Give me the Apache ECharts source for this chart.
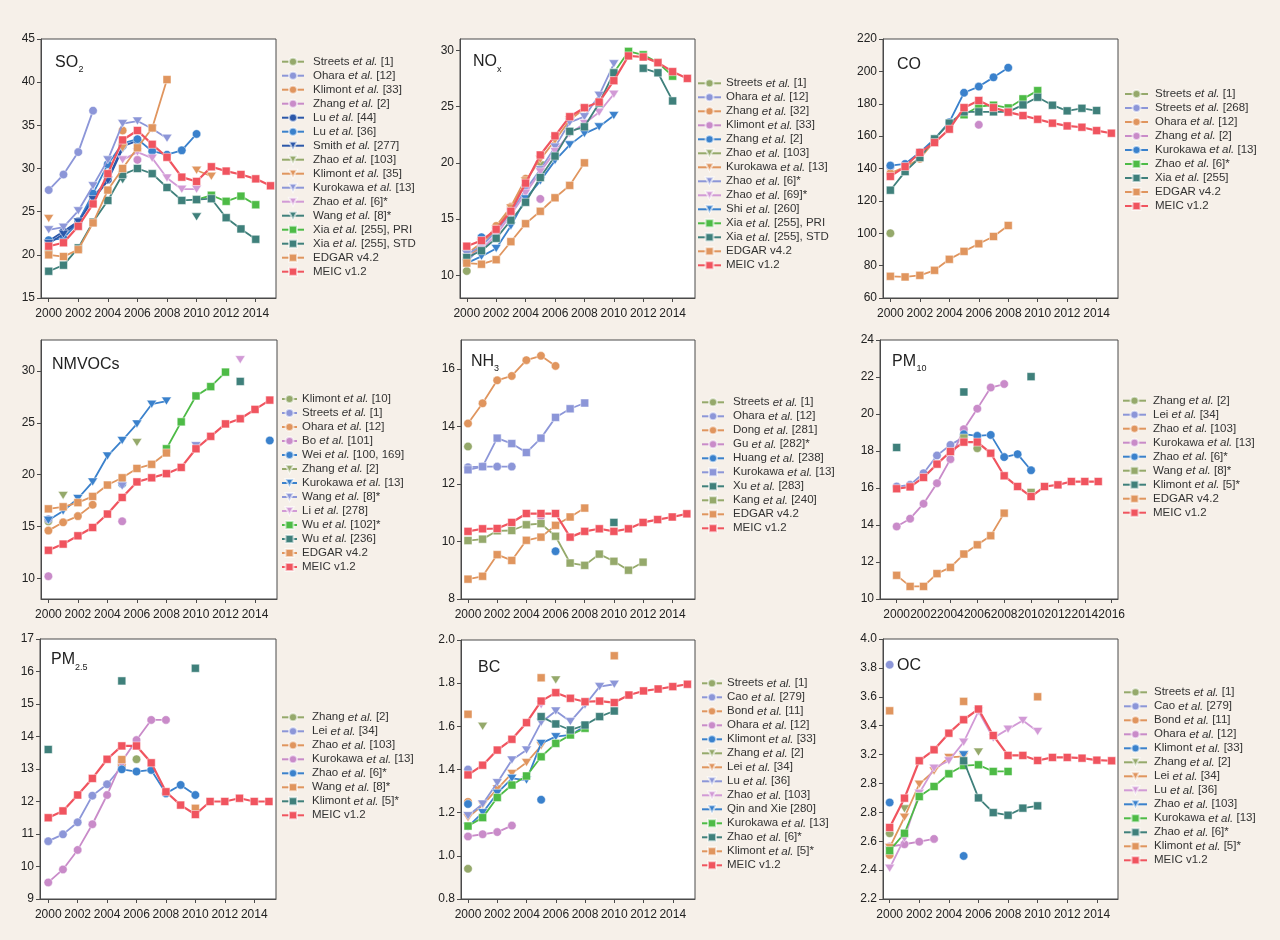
<!DOCTYPE html>
<html>
<head>
<meta charset="utf-8">
<title>Emission estimates for China</title>
<script src="https://cdn.jsdelivr.net/npm/echarts@6.0.0/dist/echarts.min.js"></script>
<style>
html, body { margin: 0; padding: 0; background: #f6f0e9; }
#main { width: 1280px; height: 940px; }
</style>
</head>
<body>
<div id="main"></div>
<script>
var _ = null;
var years = [2000, 2001, 2002, 2003, 2004, 2005, 2006, 2007, 2008, 2009, 2010, 2011, 2012, 2013, 2014, 2015];
var yearTicks = [2000, 2002, 2004, 2006, 2008, 2010, 2012, 2014];
var yearTicksPm10 = [2000, 2002, 2004, 2006, 2008, 2010, 2012, 2014, 2016];

var so2Ticks = [15, 20, 25, 30, 35, 40, 45];
var noxTicks = [10, 15, 20, 25, 30];
var coTicks = [60, 80, 100, 120, 140, 160, 180, 200, 220];
var nmvocTicks = [10, 15, 20, 25, 30];
var nh3Ticks = [8, 10, 12, 14, 16];
var pm10Ticks = [10, 12, 14, 16, 18, 20, 22, 24];
var pm25Ticks = [9, 10, 11, 12, 13, 14, 15, 16, 17];
var bcTicks = [0.8, 1.0, 1.2, 1.4, 1.6, 1.8, 2.0];
var ocTicks = [2.2, 2.4, 2.6, 2.8, 3.0, 3.2, 3.4, 3.6, 3.8, 4.0];
var ocTickLabels = ['2.2', '2.4', '2.6', '2.8', '2.8', '3.2', '3.4', '3.6', '3.8', '4.0'];

var OLIVE = '#95a96b', LAV = '#8c96d8', TAN = '#e0955e', PINK = '#c98bc9', LILAC = '#d29ad6',
    NAVY = '#2b57a9', BLUE = '#3a81cc', TEAL = '#3f807b', GREEN = '#4dbb46', RED = '#f0545f';

// SO2
var so2Names = ['Streets et al. [1]', 'Ohara et al. [12]', 'Klimont et al. [33]', 'Zhang et al. [2]', 'Lu et al. [44]',
    'Lu et al. [36]', 'Smith et al. [277]', 'Zhao et al. [103]', 'Klimont et al. [35]', 'Kurokawa et al. [13]',
    'Zhao et al. [6]*', 'Wang et al. [8]*', 'Xia et al. [255], PRI', 'Xia et al. [255], STD', 'EDGAR v4.2', 'MEIC v1.2'];
var so2Values = [
    [20.4],
    [27.5, 29.3, 31.9, 36.7],
    [_, _, _, _, _, 34.4],
    [_, _, _, _, _, _, 31.0],
    [21.6, 22.7, 23.9, 26.7, 28.7, 32.6, 33.2],
    [21.7, 21.9, 23.8, 27.1, 30.5, 32.9, 33.4, 32.0, 31.6, 32.1, 34.0],
    [21.3, 22.4, 23.8, 26.4, 28.6, 32.3],
    [_, _, _, _, _, 29.2],
    [24.2, _, _, _, _, 32.4, _, _, _, _, 29.8, 29.1],
    [22.9, 23.2, 25.1, 28.0, 31.0, 35.2, 35.5, 34.6, 33.5],
    [_, _, _, _, _, 31.0, 31.9, 31.2, 28.9, 27.6, 27.6],
    [_, _, _, _, _, 28.7, _, _, _, _, 24.4],
    [_, _, _, _, _, _, _, _, _, _, 26.4, 26.9, 26.2, 26.8, 25.8],
    [18.1, 18.8, 20.8, 23.8, 26.3, 29.3, 30.0, 29.4, 27.8, 26.3, 26.4, 26.5, 24.3, 23.0, 21.8],
    [20.0, 19.8, 20.6, 23.7, 27.5, 30.0, 32.4, 34.7, 40.3],
    [21.0, 21.4, 23.3, 25.9, 29.4, 33.3, 34.4, 32.8, 31.3, 29.0, 28.5, 30.2, 29.7, 29.3, 28.8, 28.0]
];
var so2Styles = [[OLIVE, 'c'], [LAV, 'c'], [TAN, 'c'], [PINK, 'c'], [NAVY, 'c'], [BLUE, 'c'], [NAVY, 't'], [OLIVE, 't'],
    [TAN, 't'], [LAV, 't'], [LILAC, 't'], [TEAL, 't'], [GREEN, 's'], [TEAL, 's'], [TAN, 's'], [RED, 's']];

// NOx
var noxNames = ['Streets et al. [1]', 'Ohara et al. [12]', 'Zhang et al. [32]', 'Klimont et al. [33]', 'Zhang et al. [2]',
    'Zhao et al. [103]', 'Kurokawa et al. [13]', 'Zhao et al. [6]*', 'Zhao et al. [69]*', 'Shi et al. [260]',
    'Xia et al. [255], PRI', 'Xia et al. [255], STD', 'EDGAR v4.2', 'MEIC v1.2'];
var noxValues = [
    [10.4],
    [11.2, 12.6, 14.1, 15.6],
    [11.5, 12.7, 14.4, 16.1, 18.6],
    [_, _, _, _, _, 16.8],
    [_, 13.4, _, _, _, _, 20.8],
    [_, _, _, _, _, 19.8],
    [11.9, 12.9, 14.1, 16.0, 18.4, 20.3, 22.0, 23.8, 24.8],
    [11.9, 12.6, 13.9, 15.6, 17.6, 19.4, 21.4, 23.6, 24.1, 26.0, 28.8],
    [11.6, 12.3, 13.6, 15.4, 17.3, 19.2, 21.0, 22.6, 23.5, 24.5, 26.1],
    [11.1, 11.7, 12.4, 14.4, 16.8, 18.4, 20.2, 21.6, 22.6, 23.2, 24.2],
    [_, _, _, _, _, _, _, _, _, _, 28.0, 29.9, 29.6, 28.9, 27.7],
    [11.6, 12.2, 13.3, 14.9, 16.5, 18.7, 20.6, 22.8, 23.2, 25.3, 28.0, _, 28.4, 28.0, 25.5],
    [11.1, 11.0, 11.4, 13.0, 14.6, 15.7, 16.9, 18.0, 20.0],
    [12.6, 13.1, 14.1, 15.7, 18.2, 20.7, 22.4, 24.1, 24.9, 25.4, 27.3, 29.5, 29.4, 28.9, 28.1, 27.5]
];
var noxStyles = [[OLIVE, 'c'], [LAV, 'c'], [TAN, 'c'], [PINK, 'c'], [BLUE, 'c'], [OLIVE, 't'], [TAN, 't'], [LAV, 't'],
    [LILAC, 't'], [BLUE, 't'], [GREEN, 's'], [TEAL, 's'], [TAN, 's'], [RED, 's']];

// CO
var coNames = ['Streets et al. [1]', 'Streets et al. [268]', 'Ohara et al. [12]', 'Zhang et al. [2]', 'Kurokawa et al. [13]',
    'Zhao et al. [6]*', 'Xia et al. [255]', 'EDGAR v4.2', 'MEIC v1.2'];
var coValues = [
    [100],
    [141],
    [137, 141, 146, 157],
    [_, _, _, _, _, _, 167],
    [141.8, 142.8, 150, 158.3, 168.6, 186.8, 190.6, 196.3, 202.3],
    [_, _, _, _, _, 173.2, 178.3, 179.1, 177.4, 183.0, 188.1],
    [126.6, 138.1, 146.8, 158.3, 168.0, 175.0, 175.0, 175.0, 175.0, 179.3, 184.0, 179.1, 175.6, 177.2, 175.8],
    [73.4, 73.0, 74.0, 77.1, 83.9, 88.8, 93.5, 98.0, 104.8],
    [135.1, 141.2, 149.9, 156.0, 164.3, 177.6, 182.0, 177.6, 174.8, 172.7, 170.4, 168.0, 166.3, 165.5, 163.4, 161.8]
];
var coStyles = [[OLIVE, 'c'], [LAV, 'c'], [TAN, 'c'], [PINK, 'c'], [BLUE, 'c'], [GREEN, 's'], [TEAL, 's'], [TAN, 's'], [RED, 's']];

// NMVOCs
var nmvocNames = ['Klimont et al. [10]', 'Streets et al. [1]', 'Ohara et al. [12]', 'Bo et al. [101]', 'Wei et al. [100, 169]',
    'Zhang et al. [2]', 'Kurokawa et al. [13]', 'Wang et al. [8]*', 'Li et al. [278]', 'Wu et al. [102]*',
    'Wu et al. [236]', 'EDGAR v4.2', 'MEIC v1.2'];
var nmvocValues = [
    [15.5],
    [15.7],
    [14.6, 15.4, 16.0, 17.1],
    [10.2, _, _, _, _, 15.5],
    [_, _, _, _, _, 19.1, _, _, _, _, _, _, _, _, _, 23.3],
    [_, 18.0, _, _, _, _, 23.1],
    [15.6, 16.5, 17.7, 19.3, 21.8, 23.3, 24.9, 26.8, 27.1],
    [_, _, _, _, _, 18.9, _, _, _, _, 22.8],
    [_, _, _, _, _, _, _, _, _, _, _, _, _, 31.1],
    [_, _, _, _, _, _, _, _, 22.5, 25.1, 27.6, 28.5, 29.9],
    [_, _, _, _, _, _, _, _, _, _, _, _, _, 29.0],
    [16.7, 16.9, 17.3, 17.9, 19.0, 19.7, 20.6, 21.0, 22.1],
    [12.7, 13.3, 14.1, 14.9, 16.2, 17.8, 19.3, 19.7, 20.1, 20.7, 22.5, 23.7, 24.9, 25.4, 26.3, 27.2]
];
var nmvocStyles = [[OLIVE, 'c'], [LAV, 'c'], [TAN, 'c'], [PINK, 'c'], [BLUE, 'c'], [OLIVE, 't'], [BLUE, 't'], [LAV, 't'],
    [LILAC, 't'], [GREEN, 's'], [TEAL, 's'], [TAN, 's'], [RED, 's']];

// NH3
var nh3Names = ['Streets et al. [1]', 'Ohara et al. [12]', 'Dong et al. [281]', 'Gu et al. [282]*', 'Huang et al. [238]',
    'Kurokawa et al. [13]', 'Xu et al. [283]', 'Kang et al. [240]', 'EDGAR v4.2', 'MEIC v1.2'];
var nh3Values = [
    [13.3],
    [12.58, 12.6, 12.6, 12.6],
    [14.1, 14.8, 15.6, 15.75, 16.3, 16.45, 16.1],
    [_, _, _, _, _, 10.87],
    [_, _, _, _, _, _, 9.66],
    [12.49, 12.6, 13.59, 13.4, 13.09, 13.59, 14.31, 14.61, 14.81],
    [_, _, _, _, _, _, _, _, _, _, 10.66],
    [10.03, 10.08, 10.37, 10.38, 10.58, 10.62, 10.18, 9.25, 9.17, 9.56, 9.31, 9.0, 9.28],
    [8.69, 8.79, 9.54, 9.34, 10.04, 10.15, 10.56, 10.85, 11.16],
    [10.35, 10.44, 10.45, 10.66, 10.97, 10.97, 10.97, 10.15, 10.35, 10.44, 10.35, 10.44, 10.66, 10.76, 10.85, 10.96]
];
var nh3Styles = [[OLIVE, 'c'], [LAV, 'c'], [TAN, 'c'], [PINK, 'c'], [BLUE, 'c'], [LAV, 's'], [TEAL, 's'], [OLIVE, 's'], [TAN, 's'], [RED, 's']];

// PM10
var pm10Names = ['Zhang et al. [2]', 'Lei et al. [34]', 'Zhao et al. [103]', 'Kurokawa et al. [13]', 'Zhao et al. [6]*',
    'Wang et al. [8]*', 'Klimont et al. [5]*', 'EDGAR v4.2', 'MEIC v1.2'];
var pm10Values = [
    [_, _, _, _, _, _, 18.15],
    [16.08, 16.17, 16.8, 17.76, 18.33, 18.75],
    [_, _, _, _, _, 18.6],
    [13.92, 14.34, 15.15, 16.26, 17.56, 19.18, 20.29, 21.43, 21.62],
    [_, _, _, _, _, 18.91, 18.82, 18.87, 17.67, 17.83, 16.96],
    [_, _, _, _, _, 18.7, _, _, _, _, 15.76],
    [18.19, _, _, _, _, 21.19, _, _, _, _, 22.02],
    [11.28, 10.68, 10.68, 11.37, 11.71, 12.43, 12.93, 13.42, 14.64],
    [15.96, 16.06, 16.57, 17.29, 17.97, 18.48, 18.48, 17.88, 16.66, 16.08, 15.54, 16.08, 16.17, 16.35, 16.35, 16.35]
];
var pm10Styles = [[OLIVE, 'c'], [LAV, 'c'], [TAN, 'c'], [PINK, 'c'], [BLUE, 'c'], [OLIVE, 's'], [TEAL, 's'], [TAN, 's'], [RED, 's']];

// PM2.5
var pm25Names = ['Zhang et al. [2]', 'Lei et al. [34]', 'Zhao et al. [103]', 'Kurokawa et al. [13]', 'Zhao et al. [6]*',
    'Wang et al. [8]*', 'Klimont et al. [5]*', 'MEIC v1.2'];
var pm25Values = [
    [_, _, _, _, _, _, 13.3],
    [10.78, 10.99, 11.36, 12.18, 12.53, 13.07],
    [_, _, _, _, _, 13.15],
    [9.51, 9.91, 10.51, 11.30, 12.2, 13.23, 13.89, 14.51, 14.51],
    [_, _, _, _, _, 12.99, 12.92, 12.97, 12.25, 12.51, 12.2],
    [_, _, _, _, _, 13.29, _, _, _, _, 11.79],
    [13.6, _, _, _, _, 15.71, _, _, _, _, 16.1],
    [11.5, 11.71, 12.2, 12.71, 13.3, 13.71, 13.71, 13.19, 12.3, 11.89, 11.6, 12.0, 12.0, 12.1, 12.0, 12.0]
];
var pm25Styles = [[OLIVE, 'c'], [LAV, 'c'], [TAN, 'c'], [PINK, 'c'], [BLUE, 'c'], [TAN, 's'], [TEAL, 's'], [RED, 's']];

// BC
var bcNames = ['Streets et al. [1]', 'Cao et al. [279]', 'Bond et al. [11]', 'Ohara et al. [12]', 'Klimont et al. [33]',
    'Zhang et al. [2]', 'Lei et al. [34]', 'Lu et al. [36]', 'Zhao et al. [103]', 'Qin and Xie [280]',
    'Kurokawa et al. [13]', 'Zhao et al. [6]*', 'Klimont et al. [5]*', 'MEIC v1.2'];
var bcValues = [
    [0.94],
    [1.40],
    [1.25],
    [1.09, 1.10, 1.11, 1.14],
    [1.24, _, _, _, _, 1.26],
    [_, 1.60, _, _, _, _, 1.815],
    [1.177, 1.235, 1.31, 1.382, 1.432, 1.51],
    [1.186, 1.24, 1.339, 1.444, 1.49, 1.618, 1.671, 1.622, 1.699, 1.784, 1.795],
    [_, _, _, _, _, 1.70],
    [1.135, 1.20, 1.29, 1.359, 1.351, 1.521, 1.552, 1.56, 1.60],
    [1.138, 1.177, 1.27, 1.328, 1.37, 1.459, 1.521, 1.56, 1.591],
    [_, _, _, _, _, 1.645, 1.611, 1.583, 1.606, 1.645, 1.671],
    [1.656, _, _, _, _, 1.825, _, _, _, _, 1.927],
    [1.375, 1.42, 1.49, 1.54, 1.617, 1.717, 1.756, 1.73, 1.714, 1.717, 1.71, 1.745, 1.764, 1.773, 1.784, 1.795]
];
var bcStyles = [[OLIVE, 'c'], [LAV, 'c'], [TAN, 'c'], [PINK, 'c'], [BLUE, 'c'], [OLIVE, 't'], [TAN, 't'], [LAV, 't'],
    [LILAC, 't'], [BLUE, 't'], [GREEN, 's'], [TEAL, 's'], [TAN, 's'], [RED, 's']];

// OC
var ocNames = ['Streets et al. [1]', 'Cao et al. [279]', 'Bond et al. [11]', 'Ohara et al. [12]', 'Klimont et al. [33]',
    'Zhang et al. [2]', 'Lei et al. [34]', 'Lu et al. [36]', 'Zhao et al. [103]', 'Kurokawa et al. [13]',
    'Zhao et al. [6]*', 'Klimont et al. [5]*', 'MEIC v1.2'];
var ocValues = [
    [2.655],
    [3.822],
    [2.505],
    [2.563, 2.579, 2.597, 2.616],
    [2.868, _, _, _, _, 2.498],
    [_, 2.824, _, _, _, _, 3.217],
    [2.556, 2.766, 2.995, 3.087, 3.18, 3.187],
    [2.413, 2.62, 2.932, 3.106, 3.157, 3.286, 3.499, 3.314, 3.376, 3.436, 3.36],
    [_, _, _, _, _, 3.198],
    [2.535, 2.655, 2.909, 2.979, 3.067, 3.124, 3.129, 3.083, 3.083],
    [_, _, _, _, _, 3.157, 2.90, 2.798, 2.78, 2.829, 2.845],
    [3.503, _, _, _, _, 3.568, _, _, _, _, 3.60],
    [2.695, 2.898, 3.157, 3.233, 3.348, 3.441, 3.515, 3.332, 3.194, 3.194, 3.159, 3.18, 3.18, 3.175, 3.161, 3.157]
];
var ocStyles = [[OLIVE, 'c'], [LAV, 'c'], [TAN, 'c'], [PINK, 'c'], [BLUE, 'c'], [OLIVE, 't'], [TAN, 't'], [LILAC, 't'],
    [BLUE, 't'], [GREEN, 's'], [TEAL, 's'], [TAN, 's'], [RED, 's']];

var FONT = '"Liberation Sans", Arial, Helvetica, sans-serif';
var AXIS = '#4a4a4a';

// grid: [left, top, width, height]; legend: [left, top, itemWidth, text padding]
var panels = [
    {key: 'SO2', names: so2Names, values: so2Values, styles: so2Styles, yTicks: so2Ticks, xTicks: yearTicks,
        grid: [41, 39, 235, 259], x: [1999.48, 2015.37], y: [15, 45], legend: [281, 54.7, 22, 4],
        title: ['SO', '2'], titlePos: [55, 63, 78.5, 70]},
    {key: 'NOx', names: noxNames, values: noxValues, styles: noxStyles, yTicks: noxTicks, xTicks: yearTicks,
        grid: [460, 39, 235, 259], x: [1999.54, 2015.52], y: [8, 31], legend: [697, 76.3, 23, 0],
        title: ['NO', 'x'], titlePos: [473, 62, 497, 70]},
    {key: 'CO', names: coNames, values: coValues, styles: coStyles, yTicks: coTicks, xTicks: yearTicks,
        grid: [883, 39, 235, 259], x: [1999.5, 2015.45], y: [60, 220], legend: [1124, 87, 23, 2],
        title: ['CO'], titlePos: [897, 65]},
    {key: 'NMVOCs', names: nmvocNames, values: nmvocValues, styles: nmvocStyles, yTicks: nmvocTicks, xTicks: yearTicks,
        grid: [41, 340, 236, 259], x: [1999.5, 2015.49], y: [8, 33], legend: [281, 392, 15, 0],
        title: ['NMVOCs'], titlePos: [52, 365]},
    {key: 'NH3', names: nh3Names, values: nh3Values, styles: nh3Styles, yTicks: nh3Ticks, xTicks: yearTicks,
        grid: [461, 340, 234, 259], x: [1999.52, 2015.56], y: [8, 17], legend: [701, 395.3, 22, 4],
        title: ['NH', '3'], titlePos: [471, 362, 494, 368.5]},
    {key: 'PM10', names: pm10Names, values: pm10Values, styles: pm10Styles, yTicks: pm10Ticks, xTicks: yearTicksPm10,
        grid: [880, 340, 238, 259], x: [1998.76, 2016.47], y: [10, 24], legend: [1122, 393.7, 23, 2],
        title: ['PM', '10'], titlePos: [892, 362, 916.5, 369]},
    {key: 'PM2.5', names: pm25Names, values: pm25Values, styles: pm25Styles, yTicks: pm25Ticks, xTicks: yearTicks,
        grid: [40, 639, 236, 260], x: [1999.44, 2015.48], y: [9, 17], legend: [281, 710.3, 22, 3],
        title: ['PM', '2.5'], titlePos: [51, 660, 75, 668]},
    {key: 'BC', names: bcNames, values: bcValues, styles: bcStyles, yTicks: bcTicks, xTicks: yearTicks,
        grid: [461, 640, 234, 259], x: [1999.52, 2015.52], y: [0.8, 2.0], legend: [701, 676.3, 20, 0],
        title: ['BC'], titlePos: [478, 668], decimals: 1},
    {key: 'OC', names: ocNames, values: ocValues, styles: ocStyles, yTicks: ocTicks, xTicks: yearTicks,
        grid: [883, 639, 235, 260], x: [1999.55, 2015.43], y: [2.2, 4.0], legend: [1123, 685.3, 23, 2],
        title: ['OC'], titlePos: [897, 666], tickLabels: ocTickLabels}
];

function toPairs(vals) {
    return years.map(function (yr, i) {
        var v = vals[i];
        return [yr, (v === null || v === undefined) ? '-' : v];
    });
}

function legendLabel(name) {
    var label = name.split('|')[1];
    return label.replace('et al.', '{i|et al.}');
}

var grids = [], xAxes = [], yAxes = [], legends = [], series = [], graphics = [];

panels.forEach(function (p, idx) {
    grids.push({
        left: p.grid[0], top: p.grid[1], width: p.grid[2], height: p.grid[3],
        show: true, backgroundColor: '#ffffff', borderColor: AXIS, borderWidth: 1
    });

    xAxes.push({
        type: 'value', gridIndex: idx, min: p.x[0], max: p.x[1],
        axisLine: {show: true, onZero: false, lineStyle: {color: AXIS, width: 1}},
        axisTick: {show: true, length: 4, customValues: p.xTicks, lineStyle: {color: AXIS}},
        axisLabel: {
            customValues: p.xTicks, fontSize: 12, color: '#222', margin: 10, fontFamily: FONT,
            hideOverlap: false,
            formatter: function (v) { return String(Math.round(v)); }
        },
        splitLine: {show: false}
    });

    var yLabel = {customValues: p.yTicks, fontSize: 12, color: '#222', margin: 6, fontFamily: FONT, hideOverlap: false};
    if (p.tickLabels) {
        yLabel.formatter = (function (ticks, labels) {
            return function (v) {
                for (var k = 0; k < ticks.length; k++) {
                    if (Math.abs(ticks[k] - v) < 1e-6) return labels[k];
                }
                return v.toFixed(1);
            };
        })(p.yTicks, p.tickLabels);
    } else if (p.decimals) {
        yLabel.formatter = function (v) { return v.toFixed(1); };
    } else {
        yLabel.formatter = function (v) { return String(v); };
    }
    yAxes.push({
        type: 'value', gridIndex: idx, min: p.y[0], max: p.y[1],
        axisLine: {show: true, onZero: false, lineStyle: {color: AXIS, width: 1}},
        axisTick: {show: true, length: 4, customValues: p.yTicks, lineStyle: {color: AXIS}},
        axisLabel: yLabel,
        splitLine: {show: false}
    });

    var legendData = [];
    p.names.forEach(function (name, j) {
        var full = p.key + '|' + name;
        legendData.push(full);
        var st = p.styles[j];
        var color = st[0];
        var sym = st[1] === 's' ? 'rect' : (st[1] === 't' ? 'triangle' : 'circle');
        var size = st[1] === 's' ? 8 : (st[1] === 't' ? [10, 8] : 8.5);
        series.push({
            type: 'line',
            name: full,
            xAxisIndex: idx,
            yAxisIndex: idx,
            data: toPairs(p.values[j]),
            symbol: sym,
            symbolSize: size,
            symbolRotate: st[1] === 't' ? 180 : 0,
            connectNulls: false,
            lineStyle: {color: color, width: name === 'MEIC v1.2' ? 2.2 : 1.8},
            itemStyle: {color: color, borderColor: 'rgba(255,255,255,0.6)', borderWidth: 0.8},
            emphasis: {disabled: true},
            z: 2 + j * 0.01
        });
    });

    legends.push({
        orient: 'vertical',
        left: p.legend[0], top: p.legend[1],
        padding: 0,
        itemWidth: p.legend[2], itemHeight: 10, itemGap: 0,
        selectedMode: false,
        data: legendData,
        formatter: legendLabel,
        textStyle: {
            fontSize: 11.5, color: '#333', fontFamily: FONT, lineHeight: 14,
            padding: [0, 0, 0, p.legend[3]],
            rich: {i: {fontStyle: 'italic', fontSize: 11.5, color: '#333', fontFamily: FONT, lineHeight: 14}}
        }
    });

    graphics.push({
        type: 'text', x: p.titlePos[0], y: p.titlePos[1], z: 100,
        style: {text: p.title[0], fontSize: 16, fontFamily: FONT, fill: '#222', verticalAlign: 'middle'}
    });
    if (p.title[1]) {
        graphics.push({
            type: 'text', x: p.titlePos[2], y: p.titlePos[3], z: 100,
            style: {text: p.title[1], fontSize: 9, fontFamily: FONT, fill: '#222', verticalAlign: 'middle'}
        });
    }
});

var dom = document.getElementById('main');
var myChart = echarts.init(dom);
var option = {
    animation: false,
    backgroundColor: '#f6f0e9',
    grid: grids,
    xAxis: xAxes,
    yAxis: yAxes,
    legend: legends,
    series: series,
    graphic: graphics
};
myChart.setOption(option, true);
</script>
</body>
</html>
